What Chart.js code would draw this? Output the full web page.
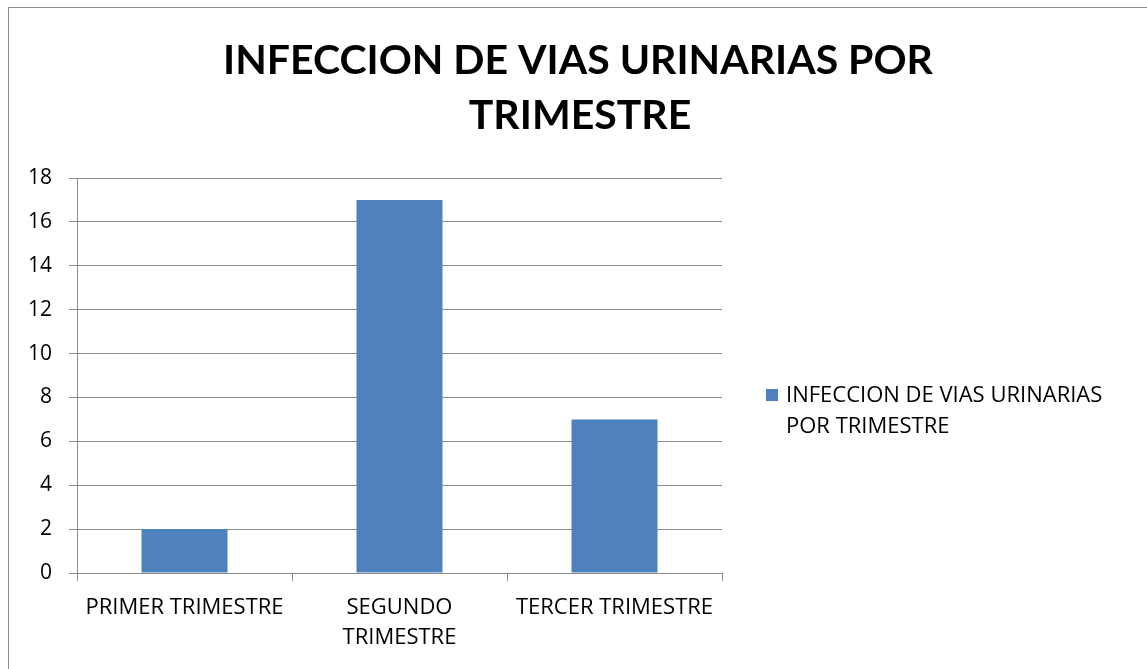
<!DOCTYPE html>
<html>
<head>
<meta charset="utf-8">
<script src="https://cdn.jsdelivr.net/npm/chart.js@4.4.1/dist/chart.umd.min.js"></script>
<style>
  body { margin: 0; background: #fff; }
  canvas { display: block; }
</style>
</head>
<body>
<canvas id="uriChart" width="1147" height="669"></canvas>
<script>
// data
const titleLines = ['INFECCION DE VIAS URINARIAS POR', 'TRIMESTRE'];
const categories = ['PRIMER TRIMESTRE', ['SEGUNDO', 'TRIMESTRE'], 'TERCER TRIMESTRE'];
const seriesName = 'INFECCION DE VIAS URINARIAS POR TRIMESTRE';
const legendLines = ['INFECCION DE VIAS URINARIAS', 'POR TRIMESTRE'];
const values = [2, 17, 7];
const yTicks = { min: 0, max: 18, step: 2 };

const FONT = '"Open Sans", Lato, sans-serif';
const TITLE_FONT = 'Lato, "Open Sans", sans-serif';
const barColor = '#4F81BD';
const lineColor = '#8c8c8c';

// frame, title and legend drawn by hand
const decorPlugin = {
    id: 'decor',
    beforeDraw(chart) {
        const ctx = chart.ctx;
        ctx.save();
        ctx.fillStyle = '#fff';
        ctx.fillRect(0, 0, chart.width, chart.height);
        ctx.strokeStyle = lineColor;
        ctx.lineWidth = 1;
        ctx.strokeRect(8.5, 7.5, 1400, 1000);
        ctx.restore();
    },
    afterDraw(chart) {
        const ctx = chart.ctx;
        ctx.save();
        ctx.fillStyle = '#000';
        ctx.textAlign = 'center';
        ctx.textBaseline = 'middle';
        ctx.font = 'bold 41px ' + TITLE_FONT;
        ctx.fillText(titleLines[0], 578, 61);
        ctx.fillText(titleLines[1], 580, 116);

        // legend
        ctx.fillStyle = chart.data.datasets[0].backgroundColor;
        ctx.fillRect(766, 389, 12, 12);
        ctx.fillStyle = '#000';
        ctx.textAlign = 'left';
        ctx.font = '22px ' + FONT;
        ctx.fillText(legendLines[0], 786, 396);
        ctx.fillText(legendLines[1], 786, 427);
        ctx.restore();
    }
};

const ctx = document.getElementById('uriChart').getContext('2d');
new Chart(ctx, {
    type: 'bar',
    data: {
        labels: categories,
        datasets: [{
            label: seriesName,
            data: values,
            backgroundColor: barColor,
            borderWidth: 0,
            barPercentage: 0.4,
            categoryPercentage: 1
        }]
    },
    options: {
        responsive: false,
        animation: false,
        layout: {
            padding: { top: 178, right: 425, bottom: 0, left: 0 }
        },
        scales: {
            x: {
                offset: true,
                grid: {
                    offset: true,
                    drawOnChartArea: false,
                    drawTicks: true,
                    tickLength: 8,
                    color: lineColor
                },
                border: { color: lineColor, width: 1 },
                ticks: {
                    color: '#000',
                    font: { family: FONT, size: 22, lineHeight: 1.36 },
                    padding: 12,
                    maxRotation: 0,
                    autoSkip: false
                },
                afterFit(scale) { scale.height = 96; }
            },
            y: {
                min: yTicks.min,
                max: yTicks.max,
                grid: {
                    color: lineColor,
                    tickLength: 8
                },
                border: { color: lineColor, width: 1 },
                ticks: {
                    stepSize: yTicks.step,
                    color: '#000',
                    font: { family: FONT, size: 21 },
                    padding: 17
                },
                afterFit(scale) { scale.width = 77; }
            }
        },
        plugins: {
            legend: { display: false },
            title: { display: false },
            tooltip: { enabled: false }
        }
    },
    plugins: [decorPlugin]
});
</script>
</body>
</html>
